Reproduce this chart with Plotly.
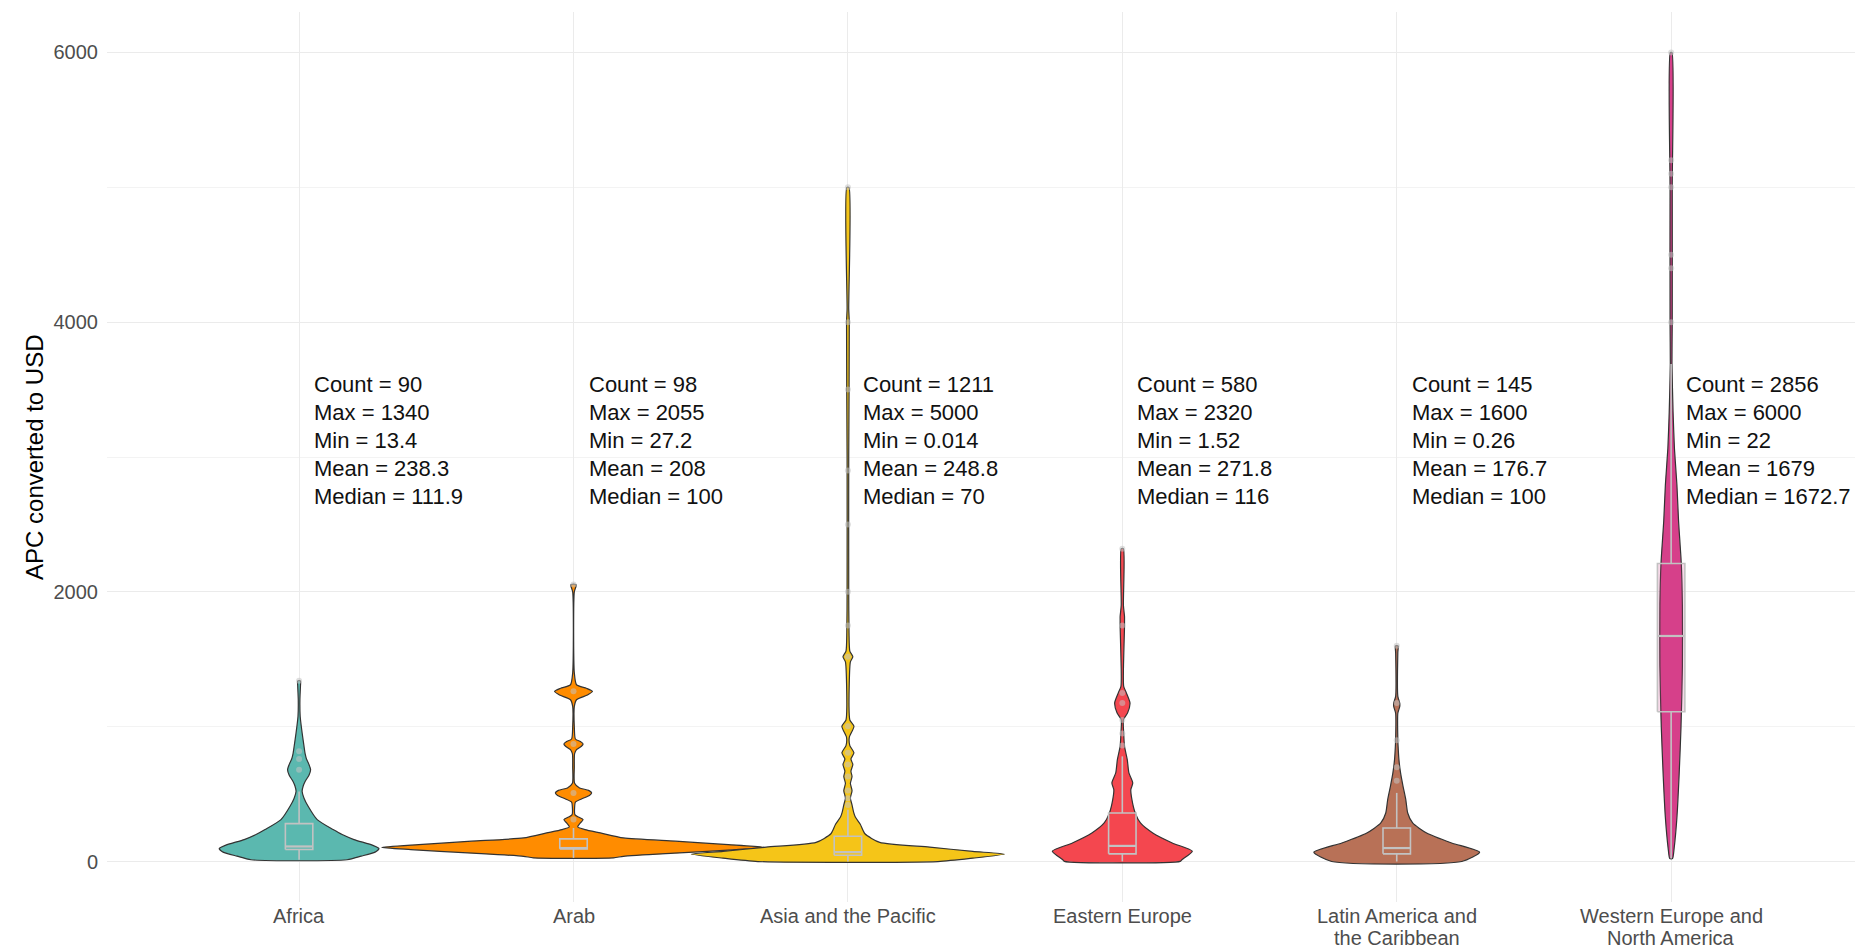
import plotly.graph_objects as go

# ---------------- data ----------------
regions = ["Africa", "Arab", "Asia and the Pacific", "Eastern Europe",
           "Latin America and<br>the Caribbean", "Western Europe and<br>North America"]
colors = ["#5BB8AF", "#FF8C00", "#F5C518", "#F4474F", "#B87157", "#D6408A"]

count = [90, 98, 1211, 580, 145, 2856]
max_v = ["1340", "2055", "5000", "2320", "1600", "6000"]
min_v = ["13.4", "27.2", "0.014", "1.52", "0.26", "22"]
mean_v = ["238.3", "208", "248.8", "271.8", "176.7", "1679"]
median_v = [111.9, 100, 70, 116, 100, 1672.7]
median_lbl = ["111.9", "100", "70", "116", "100", "1672.7"]

# box statistics
q1 = [89, 94, 47, 57, 57, 1111]
q3 = [281, 168, 188, 360, 249, 2210]
lower_fence = [13.4, 27.2, 0.014, 1.52, 0.26, 22]
upper_fence = [520, 249, 385, 780, 509, 3690]

# violin outlines: APC value levels and half-width (in category units)
africa_y = [13.4, 40, 70, 96, 120, 163, 200, 237, 311, 410, 470, 521, 560, 594, 640, 681, 720, 760, 800, 854, 955, 1076, 1200, 1300, 1340]
africa_w = [0.175, 0.226, 0.277, 0.291, 0.269, 0.200, 0.157, 0.124, 0.066, 0.033, 0.018, 0.011, 0.015, 0.022, 0.036, 0.042, 0.036, 0.027, 0.022, 0.018, 0.011, 0.004, 0.003, 0.005, 0.005]

arab_y = [27.2, 39, 64, 89, 105, 126, 151, 175, 212, 237, 257, 280, 311, 330, 348, 400, 440, 464, 490, 509, 528, 546, 580, 700, 800, 830, 855, 872, 890, 909, 1000, 1150, 1200, 1235, 1262, 1285, 1311, 1400, 2000, 2040, 2055]
arab_w = [0.146, 0.182, 0.386, 0.593, 0.699, 0.564, 0.371, 0.182, 0.098, 0.042, 0.015, 0.022, 0.035, 0.018, 0.005, 0.004, 0.007, 0.029, 0.058, 0.066, 0.055, 0.022, 0.004, 0.003, 0.004, 0.011, 0.029, 0.035, 0.025, 0.007, 0.003, 0.003, 0.011, 0.051, 0.069, 0.047, 0.011, 0.003, 0.003, 0.009, 0.009]

asia_y = [0.014, 25, 55, 75, 107, 142, 206, 277, 330, 365, 420, 470, 526, 580, 630, 670, 720, 760, 807, 860, 920, 1003, 1050, 1150, 1480, 1519, 1560, 1700, 2000, 3000, 4000, 4100, 5000]
asia_w = [0.328, 0.455, 0.571, 0.455, 0.298, 0.116, 0.062, 0.045, 0.027, 0.021, 0.015, 0.009, 0.015, 0.009, 0.015, 0.011, 0.018, 0.011, 0.022, 0.007, 0.005, 0.022, 0.007, 0.004, 0.009, 0.018, 0.007, 0.004, 0.003, 0.003, 0.005, 0.003, 0.004]

eastern_y = [1.52, 15, 77, 138, 212, 286, 360, 459, 533, 583, 657, 756, 854, 953, 1052, 1101, 1175, 1249, 1299, 1422, 1743, 1780, 1817, 1900, 2320]
eastern_w = [0.211, 0.218, 0.255, 0.182, 0.111, 0.066, 0.047, 0.035, 0.031, 0.038, 0.024, 0.018, 0.008, 0.005, 0.004, 0.019, 0.028, 0.015, 0.005, 0.004, 0.008, 0.008, 0.008, 0.004, 0.004]

latin_y = [0.26, 69, 138, 212, 286, 360, 459, 558, 657, 756, 854, 904, 1100, 1150, 1175, 1225, 1550, 1600]
latin_w = [0.237, 0.302, 0.200, 0.109, 0.058, 0.040, 0.033, 0.023, 0.014, 0.008, 0.005, 0.004, 0.004, 0.011, 0.011, 0.004, 0.004, 0.005]

western_y = [22, 100, 325, 638, 1000, 1447, 1896, 2210, 2526, 2794, 3063, 3333, 3692, 4000, 5000, 6000]
western_w = [0.005, 0.011, 0.021, 0.029, 0.036, 0.041, 0.041, 0.037, 0.027, 0.021, 0.012, 0.007, 0.003, 0.004, 0.004, 0.003]

violin_y = [africa_y, arab_y, asia_y, eastern_y, latin_y, western_y]
violin_w = [africa_w, arab_w, asia_w, eastern_w, latin_w, western_w]

# outlier points visible on the chart
outliers = [
    [681, 760, 817, 1340],
    [311, 509, 872, 1262, 2055],
    [420, 470, 526, 630, 720, 807, 1003, 1519, 1750, 2000, 2500, 2900, 3500, 4000, 5000],
    [860, 950, 1050, 1175, 1250, 1750, 2320],
    [600, 700, 900, 1175, 1600],
    [4000, 4400, 4500, 5000, 5100, 5200, 6000],
]

# ---------------- figure ----------------
FONT = "Liberation Sans, Arial, sans-serif"
BOX_HALF = 0.05
BOX_LINE = "#c2c2c2"


def rgba(hexc, a):
    h = hexc.lstrip("#")
    return "rgba(%d,%d,%d,%.2f)" % (int(h[0:2], 16), int(h[2:4], 16), int(h[4:6], 16), a)


fig = go.Figure()

# violins
for i, (ys, ws) in enumerate(zip(violin_y, violin_w)):
    xs = [i + w for w in ws] + [i - w for w in reversed(ws)]
    yy = list(ys) + list(reversed(ys))
    xs.append(xs[0])
    yy.append(yy[0])
    fig.add_trace(go.Scatter(
        x=xs, y=yy, mode="lines", fill="toself", fillcolor=colors[i],
        line=dict(color="#333333", width=1.2, shape="spline", smoothing=0.6),
        hoverinfo="skip", showlegend=False))

# boxplots (drawn as scatter so they sit above the violins)
for i in range(len(regions)):
    fig.add_trace(go.Scatter(
        x=[i, i, None, i, i], y=[q3[i], upper_fence[i], None, q1[i], lower_fence[i]],
        mode="lines", line=dict(color=BOX_LINE, width=1.6),
        hoverinfo="skip", showlegend=False))
    fig.add_trace(go.Scatter(
        x=[i - BOX_HALF, i + BOX_HALF, i + BOX_HALF, i - BOX_HALF, i - BOX_HALF],
        y=[q1[i], q1[i], q3[i], q3[i], q1[i]],
        mode="lines", fill="toself", fillcolor=rgba(colors[i], 0.2),
        line=dict(color=BOX_LINE, width=1.6), hoverinfo="skip", showlegend=False))
    fig.add_trace(go.Scatter(
        x=[i - BOX_HALF, i + BOX_HALF], y=[median_v[i], median_v[i]],
        mode="lines", line=dict(color=BOX_LINE, width=2.2),
        hoverinfo="skip", showlegend=False))
    fig.add_trace(go.Scatter(
        x=[i] * len(outliers[i]), y=outliers[i], mode="markers",
        marker=dict(color="rgba(195,195,195,0.55)", size=6),
        hoverinfo="skip", showlegend=False))

# statistics labels
line_gap = 207
mid_y = 3120
for i in range(len(regions)):
    lines = ["Count = %d" % count[i], "Max = %s" % max_v[i], "Min = %s" % min_v[i],
             "Mean = %s" % mean_v[i], "Median = %s" % median_lbl[i]]
    for k, t in enumerate(lines):
        fig.add_annotation(
            x=i, y=mid_y + (2 - k) * line_gap, text=t, showarrow=False,
            xanchor="left", yanchor="middle", xshift=13,
            font=dict(family=FONT, size=22, color="#111111"))

# category labels (x axis), one annotation per text line for tight line spacing
for i, lab in enumerate(regions):
    for k, part in enumerate(lab.split("<br>")):
        fig.add_annotation(
            x=i, xref="x", y=0, yref="paper", text=part, showarrow=False,
            xanchor="center", yanchor="middle", yshift=-14 - 22 * k,
            font=dict(family=FONT, size=20, color="#4d4d4d"))

fig.add_annotation(
    xref="paper", yref="paper", x=-0.0418, y=0.5, text="APC converted to USD",
    textangle=-90, showarrow=False, xanchor="center", yanchor="middle",
    font=dict(family=FONT, size=24, color="#000000"))

fig.update_layout(
    width=1855, height=950,
    margin=dict(l=107, r=0, t=12, b=48, autoexpand=False),
    plot_bgcolor="white", paper_bgcolor="white",
    font=dict(family=FONT),
    xaxis=dict(
        range=[-0.7, 5.67], tickmode="array", tickvals=list(range(len(regions))),
        showticklabels=False, showgrid=True, gridcolor="#ebebeb", gridwidth=1.2,
        zeroline=False, showline=False, ticks="", automargin=False),
    yaxis=dict(
        range=[-300, 6300], tickmode="array", tickvals=[0, 2000, 4000, 6000],
        showgrid=True, gridcolor="#ebebeb", gridwidth=1.2, zeroline=False,
        showline=False, ticks="", ticklabelstandoff=8, automargin=False,
        minor=dict(tickmode="array", tickvals=[1000, 3000, 5000], showgrid=True,
                   gridcolor="#f3f3f3", gridwidth=0.8),
        tickfont=dict(family=FONT, size=20, color="#4d4d4d")),
)

fig.write_html("out.html", config={"displayModeBar": False},
               post_script="document.body.style.margin='0px';document.body.style.overflow='hidden';")
